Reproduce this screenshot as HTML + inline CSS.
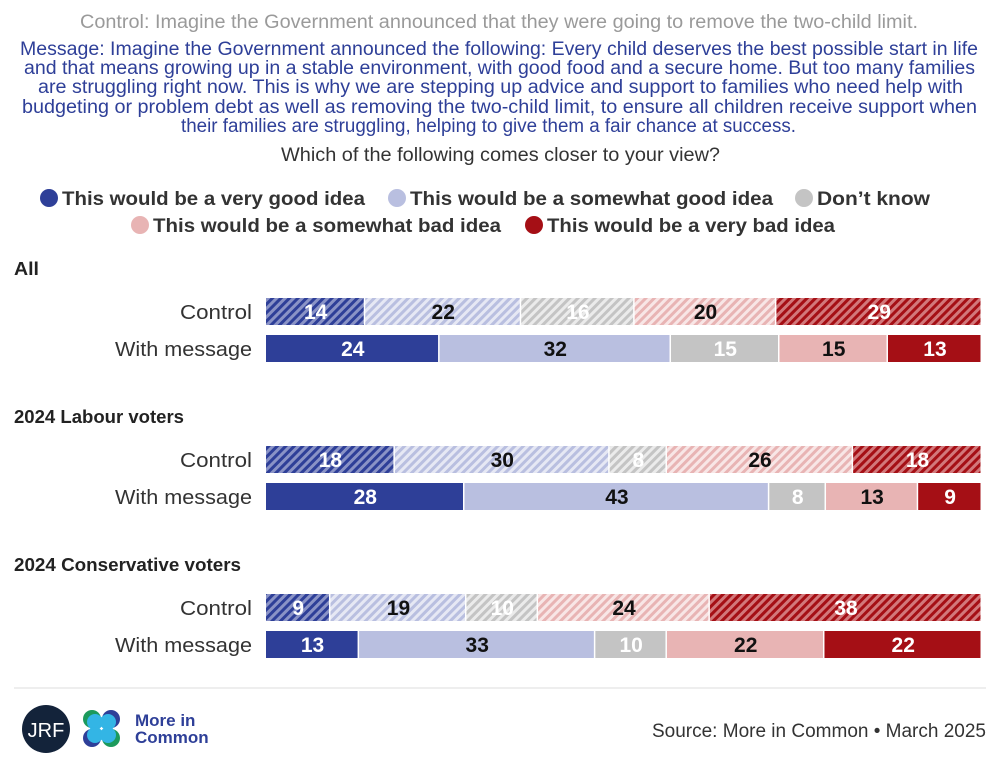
<!DOCTYPE html>
<html><head><meta charset="utf-8"><style>
body{margin:0;background:#fff}
svg{display:block;font-family:"Liberation Sans",sans-serif}
</style></head><body>
<svg id="chart" width="1000" height="774" viewBox="0 0 1000 774" xmlns="http://www.w3.org/2000/svg">
<defs>
<pattern id="h0" patternUnits="userSpaceOnUse" width="6" height="6" patternTransform="rotate(45)"><rect width="6" height="6" fill="#8a93c6"/><rect width="3" height="6" fill="#2e3f98"/></pattern>
<pattern id="h1" patternUnits="userSpaceOnUse" width="6" height="6" patternTransform="rotate(45)"><rect width="6" height="6" fill="#e6e8f4"/><rect width="3" height="6" fill="#b9bfe0"/></pattern>
<pattern id="h2" patternUnits="userSpaceOnUse" width="6" height="6" patternTransform="rotate(45)"><rect width="6" height="6" fill="#ebebeb"/><rect width="3" height="6" fill="#c4c4c4"/></pattern>
<pattern id="h3" patternUnits="userSpaceOnUse" width="6" height="6" patternTransform="rotate(45)"><rect width="6" height="6" fill="#f8e6e6"/><rect width="3" height="6" fill="#e8b4b4"/></pattern>
<pattern id="h4" patternUnits="userSpaceOnUse" width="6" height="6" patternTransform="rotate(45)"><rect width="6" height="6" fill="#d2787b"/><rect width="3" height="6" fill="#a50f15"/></pattern>
</defs>
<g>
<text x="80" y="28" textLength="838" lengthAdjust="spacingAndGlyphs" font-size="19" fill="#9a9a9a">Control: Imagine the Government announced that they were going to remove the two-child limit.</text>
<g font-size="19" fill="#2e3f98">
<text x="20" y="55" textLength="958" lengthAdjust="spacingAndGlyphs">Message: Imagine the Government announced the following: Every child deserves the best possible start in life</text>
<text x="24" y="74" textLength="951" lengthAdjust="spacingAndGlyphs">and that means growing up in a stable environment, with good food and a secure home. But too many families</text>
<text x="38" y="93" textLength="925" lengthAdjust="spacingAndGlyphs">are struggling right now. This is why we are stepping up advice and support to families who need help with</text>
<text x="22" y="113" textLength="955" lengthAdjust="spacingAndGlyphs">budgeting or problem debt as well as removing the two-child limit, to ensure all children receive support when</text>
<text x="181" y="132" textLength="615" lengthAdjust="spacingAndGlyphs">their families are struggling, helping to give them a fair chance at success.</text>
</g>
<text x="281" y="161" textLength="439" lengthAdjust="spacingAndGlyphs" font-size="19" fill="#333">Which of the following comes closer to your view?</text>
</g>
<g id="legend" font-size="19" font-weight="bold" fill="#333"></g>
<g id="bars"></g>
<line x1="14" y1="688" x2="986" y2="688" stroke="#ddd" stroke-width="1"/>
<g>
<circle cx="46" cy="729" r="24" fill="#13233a"/>
<text x="46" y="737" text-anchor="middle" font-size="20" fill="#fff">JRF</text>
</g>
<g>
<circle cx="92" cy="719" r="9" fill="#1c9a5c"/><circle cx="111" cy="719" r="9" fill="#2e3f98"/>
<circle cx="92" cy="738" r="9" fill="#2e3f98"/><circle cx="111" cy="738" r="9" fill="#1c9a5c"/>
<circle cx="95" cy="722" r="8" fill="#33b5e5"/><circle cx="108" cy="722" r="8" fill="#33b5e5"/>
<circle cx="95" cy="735" r="8" fill="#33b5e5"/><circle cx="108" cy="735" r="8" fill="#33b5e5"/>
<text x="135" y="726" font-size="17" font-weight="bold" fill="#2e3f98">More in</text>
<text x="135" y="743" font-size="17" font-weight="bold" fill="#2e3f98">Common</text>
</g>
<text x="986" y="737" text-anchor="end" font-size="19" fill="#333">Source: More in Common • March 2025</text>
</svg>
<script>
const categories = ["This would be a very good idea","This would be a somewhat good idea","Don’t know","This would be a somewhat bad idea","This would be a very bad idea"];
const groups = ["All","2024 Labour voters","2024 Conservative voters"];
const rowLabels = ["Control","With message"];
const allControl = [14,22,16,20,29];
const allMessage = [24,32,15,15,13];
const labourControl = [18,30,8,26,18];
const labourMessage = [28,43,8,13,9];
const conControl = [9,19,10,24,38];
const conMessage = [13,33,10,22,22];
const seriesByGroup = [[allControl,allMessage],[labourControl,labourMessage],[conControl,conMessage]];

const colors = ["#2e3f98","#b9bfe0","#c4c4c4","#e8b4b4","#a50f15"];
const textColors = ["#fff","#111","#fff","#111","#fff"];
const NS = "http://www.w3.org/2000/svg";
const X0 = 266, W = 716;
function xScale(v, total){ return v / total * W; }
function mk(tag, attrs, parent){ const e=document.createElementNS(NS,tag); for(const k in attrs) e.setAttribute(k,attrs[k]); parent.appendChild(e); return e; }

const legend = document.getElementById('legend');
const legendPos = [[49,198],[397,198],[804,198],[140,225],[534,225]];
const legendW = [303,363,113,348,288];
categories.forEach((c,i)=>{
  const g = mk('g',{},legend);
  
  
  const [cx,cy]=legendPos[i];
  mk('circle',{cx:cx,cy:cy,r:9,fill:colors[i]},g);
  const t = mk('text',{x:cx+13,y:cy+7,textLength:legendW[i],lengthAdjust:'spacingAndGlyphs'},g);
  t.textContent = c;
});

const bars = document.getElementById('bars');
const groupY = [268,416,564];
const titleW = [25,170,227];
const rowW = [72,137];
groups.forEach((gname,gi)=>{
  const g = mk('g',{},bars);
  
  
  const title = mk('text',{x:14,y:groupY[gi]+7,'font-size':18,'font-weight':'bold',fill:'#222',textLength:titleW[gi],lengthAdjust:'spacingAndGlyphs'},g);
  
  
  title.textContent = gname;
  seriesByGroup[gi].forEach((vals,ri)=>{
    const y = groupY[gi] + 30 + ri*37;
    const lbl = mk('text',{x:252-rowW[ri],y:y+21,'font-size':20,fill:'#333',textLength:rowW[ri],lengthAdjust:'spacingAndGlyphs'},g);
    
    
    lbl.textContent = rowLabels[ri];
    const total = vals.reduce((a,b)=>a+b,0);
    let x = X0;
    vals.forEach((v,ci)=>{
      const w = xScale(v,total);
      const r = mk('rect',{x:x,y:y,width:Math.max(w-1.5,0),height:27,fill: ri===0?`url(#h${ci})`:colors[ci]},g);
      
      
      const t = mk('text',{x:x+w/2,y:y+21,'text-anchor':'middle','font-size':21,'font-weight':'bold',fill:textColors[ci]},g);
      
      
      t.textContent = v;
      x += w;
    });
  });
});
</script>
</body></html>
